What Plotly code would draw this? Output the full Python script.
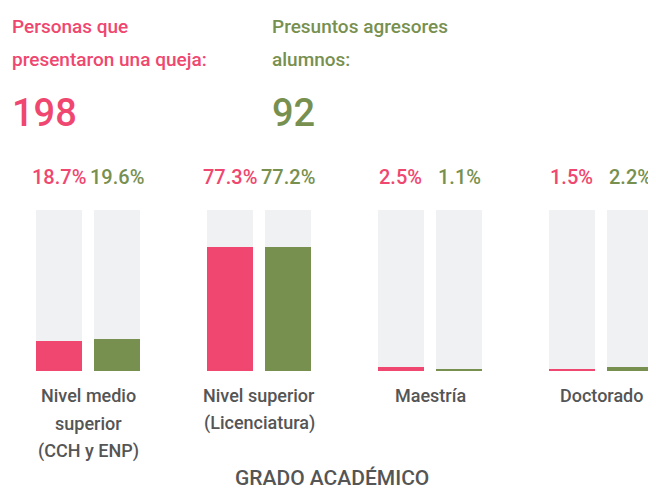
import plotly.graph_objects as go

# Datos (porcentaje por grado académico)
categorias = [["Nivel medio", "superior", "(CCH y ENP)"],
              ["Nivel superior", "(Licenciatura)"],
              ["Maestría"],
              ["Doctorado"]]
quejosos_pct = [18.7, 77.3, 2.5, 1.5]
agresores_pct = [19.6, 77.2, 1.1, 2.2]
total_quejosos = 198
total_agresores = 92
fondo_pct = [100, 100, 100, 100]

ROSA = "#ef476f"
VERDE = "#78904f"
GRIS_FONDO = "#f0f1f3"
GRIS_TEXTO = "#555555"
FUENTE = "Roboto, Liberation Sans, sans-serif"

OFF = 0.17    # desplazamiento de cada barra respecto al centro del grupo
ANCHO = 0.27

xs = list(range(len(categorias)))
x_rosa = [i - OFF for i in xs]
x_verde = [i + OFF for i in xs]

fig = go.Figure()
# barras de fondo (100 %)
for xv in (x_rosa, x_verde):
    fig.add_trace(go.Bar(x=xv, y=fondo_pct, width=ANCHO, marker_color=GRIS_FONDO,
                         marker_line_width=0, hoverinfo="skip", showlegend=False))
fig.add_trace(go.Bar(x=x_rosa, y=quejosos_pct, width=ANCHO, marker_color=ROSA,
                     marker_line_width=0, name="Quejosos", showlegend=False))
fig.add_trace(go.Bar(x=x_verde, y=agresores_pct, width=ANCHO, marker_color=VERDE,
                     marker_line_width=0, name="Agresores", showlegend=False))

# etiquetas de porcentaje sobre cada barra
for xv, vals, col in ((x_rosa, quejosos_pct, ROSA), (x_verde, agresores_pct, VERDE)):
    for x, v in zip(xv, vals):
        fig.add_annotation(x=x, y=1.205, xref="x", yref="paper", text=f"{v}%",
                           showarrow=False,
                           font=dict(family=FUENTE, size=20, color=col, weight=500),
                           xanchor="center", yanchor="middle")

# etiquetas de categoría (una anotación por línea para controlar el interlineado)
Y_LINEAS = (-0.155, -0.323, -0.497)
for i, lineas in zip(xs, categorias):
    for y, linea in zip(Y_LINEAS, lineas):
        fig.add_annotation(x=i, y=y, xref="x", yref="paper", text=linea,
                           showarrow=False, xanchor="center", yanchor="middle",
                           font=dict(family=FUENTE, size=18, color=GRIS_TEXTO, weight=500))

fig.add_annotation(x=0.5, y=-0.665, xref="paper", yref="paper", text="GRADO ACADÉMICO",
                   showarrow=False, xanchor="center", yanchor="middle",
                   font=dict(family=FUENTE, size=21, color=GRIS_TEXTO, weight=500))

# encabezados
def cabecera(x, lineas, numero, col):
    for y, linea in zip((2.137, 1.932), lineas):
        fig.add_annotation(x=x, y=y, xref="paper", yref="paper", text=linea,
                           showarrow=False, xanchor="left", yanchor="middle",
                           font=dict(family=FUENTE, size=19, color=col, weight=500))
    fig.add_annotation(x=x, y=1.602, xref="paper", yref="paper", text=str(numero),
                       showarrow=False, xanchor="left", yanchor="middle",
                       font=dict(family=FUENTE, size=38, color=col, weight=500))

cabecera(0.003, ("Personas que", "presentaron una queja:"), total_quejosos, ROSA)
cabecera(0.404, ("Presuntos agresores", "alumnos:"), total_agresores, VERDE)

fig.update_layout(
    width=648, height=484,
    margin=dict(l=0, r=0, t=202, b=121),
    plot_bgcolor="white", paper_bgcolor="white",
    barmode="overlay", bargap=0,
    font=dict(family=FUENTE, color=GRIS_TEXTO),
    xaxis=dict(range=[-0.4678, 3.3216], showgrid=False, zeroline=False,
               showline=False, ticks="", showticklabels=False),
    yaxis=dict(range=[0, 100], visible=False),
)

fig.write_html("out.html")
